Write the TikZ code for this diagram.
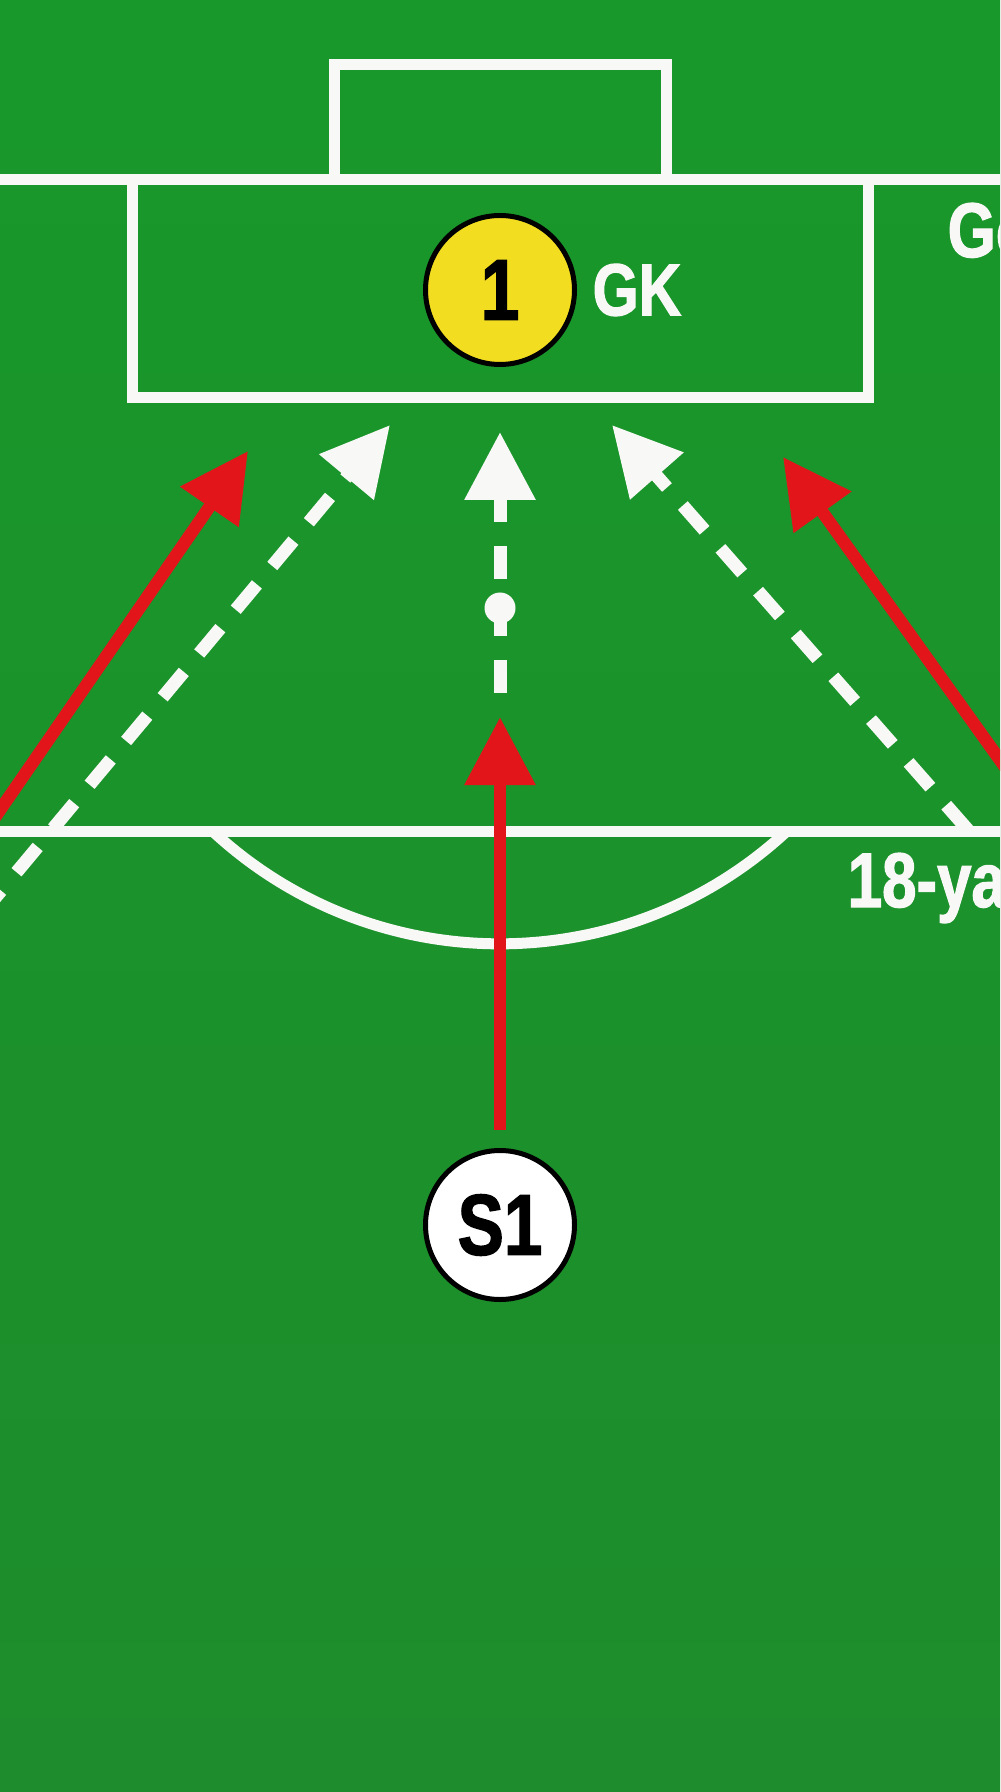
\documentclass[tikz,border=0pt]{standalone}
\usepackage{fontspec}
\setmainfont{Liberation Sans}[FakeStretch=0.8, BoldFeatures={FakeBold=1.6}]
\usetikzlibrary{arrows.meta,positioning}
\definecolor{turf}{RGB}{24,152,42}
\definecolor{turfdark}{RGB}{30,140,44}
\definecolor{chalk}{RGB}{248,248,246}
\definecolor{runred}{RGB}{226,22,26}
\definecolor{keeper}{RGB}{242,221,32}
\tikzset{
  pitch/.style={draw=chalk, line width=1.1mm},
  player/.style={circle, draw=black, line width=0.5mm, minimum size=14.9mm, inner sep=0pt, font=\bfseries\fontsize{24.6}{26}\selectfont},
  tag/.style={text=chalk, inner sep=0pt, font=\bfseries\fontsize{22}{24}\selectfont},
  run/.style={draw=runred, line width=1.25mm, -{Triangle[length=6.8mm,width=6.8mm]}},
  pass/.style={draw=chalk, line width=1.3mm, dash pattern=on 3.3mm off 2.4mm, -{Triangle[length=6.8mm,width=6.8mm]}},
  ball/.style={circle, fill=chalk, minimum size=3.1mm, inner sep=0pt}
}
\begin{document}
\begin{tikzpicture}[x=0.1mm,y=-0.1mm]
  \useasboundingbox (0,0) rectangle (1000,1792);
  \clip (0,0) rectangle (1000,1792);
  \shade[top color=turf, bottom color=turfdark] (0,0) rectangle (1000,1792);
  \draw[pitch] (334,180) rectangle (666,65);
  \draw[pitch] (-20,180) -- (1020,180);
  \draw[pitch] (132,180) rectangle (868,398);
  \draw[pitch] (-20,831) -- (1020,831);
  \draw[pitch] (787,831) arc[start angle=47.1, end angle=132.9, radius=422];
  \node[player, fill=keeper] (gk) at (500,290) {1};
  \node[tag, right=1.5mm of gk, font=\bfseries\fontsize{21}{23}\selectfont] (gklabel) {GK};
  \node[player, fill=white] (s1) at (500,1225) {S1};
  \node[tag, anchor=base west] (boxlabel) at (947,257) {Goal area};
  \node[tag, anchor=base west] (linelabel) at (847,907) {18-yard line};
  \coordinate (shot) at (500,717);
  \coordinate (passstart) at (500,693);
  \coordinate (passend) at (500,432);
  \coordinate (leftrun) at (-20,839);
  \coordinate (leftrunend) at (248,451);
  \coordinate (leftpass) at (-20,916);
  \coordinate (leftpassend) at (390,425);
  \coordinate (rightpass) at (968,830);
  \coordinate (rightpassend) at (612,425);
  \coordinate (rightrun) at (1020,788);
  \coordinate (rightrunend) at (783,457);
  \draw[run, shorten <=1.8mm] (s1) -- (shot);
  \draw[pass] (passstart) -- (passend);
  \node[ball] (dot) at (500,608) {};
  \draw[run] (leftrun) -- (leftrunend);
  \draw[pass] (leftpass) -- (leftpassend);
  \draw[pass] (rightpass) -- (rightpassend);
  \draw[run] (rightrun) -- (rightrunend);
\end{tikzpicture}
\end{document}
